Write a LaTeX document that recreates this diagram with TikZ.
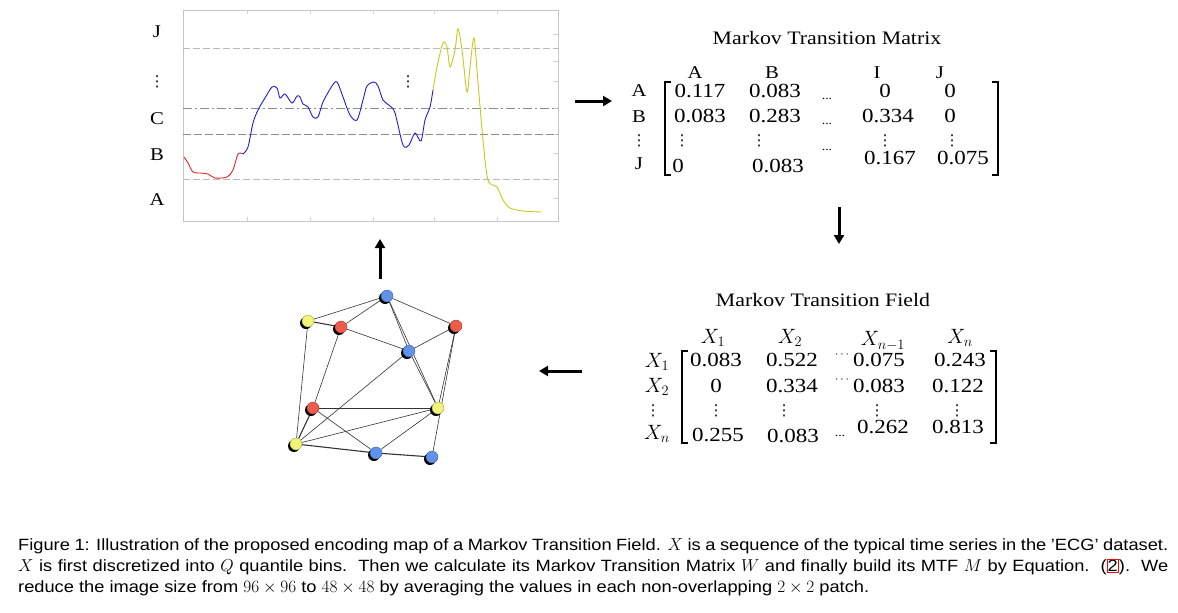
\documentclass[tikz,border=0pt]{standalone}
\usepackage{fontspec}
\setmainfont[FakeStretch=1.15]{Liberation Serif}
\newfontfamily\capfont[FakeStretch=1.12]{Liberation Sans}
\newfontfamily\symfont{DejaVu Sans}
\usetikzlibrary{arrows.meta,shadows,backgrounds}
\definecolor{cyel}{RGB}{242,244,120}
\definecolor{cred}{RGB}{240,92,76}
\definecolor{cblu}{RGB}{96,146,236}
\definecolor{lred}{RGB}{225,40,40}
\definecolor{lblu}{RGB}{30,30,210}
\definecolor{lyel}{RGB}{200,200,30}
\begin{document}
\begin{tikzpicture}[x=1pt,y=-1pt,
  lbl/.style={font=\fontsize{18}{20}\selectfont, inner sep=0},
  num/.style={font=\fontsize{20}{24}\selectfont, inner sep=0},
  vd/.style={font=\symfont\fontsize{15}{16}\selectfont, inner sep=0},
  ttl/.style={font=\fontsize{19}{22}\selectfont, inner sep=0},
  mth/.style={font=\fontsize{20}{22}\selectfont, inner sep=0},
  sdots/.style={font=\fontsize{12}{14}\selectfont, inner sep=0},
  arr/.style={line width=3pt, -{Triangle[length=9pt,width=10pt]}},
  brk/.style={line width=1.8pt},
  gnode/.style={circle, draw=#1!65!black, fill=#1, minimum size=12pt, inner sep=0, line width=0.4pt,
     drop shadow={shadow xshift=-2pt, shadow yshift=-2pt, opacity=1, fill=black}},
  gedge/.style={draw=black!80, line width=0.6pt},
  capl/.style={anchor=base west, inner sep=0, font=\capfont\fontsize{16.3}{19}\selectfont}
]
\useasboundingbox (0,0) rectangle (1178,613);

% ---------- chart ----------
\draw[gray!45, line width=0.8pt] (183,10) rectangle (558,221);
\foreach \x in {247,310,373,434,497} {
  \draw[gray!35] (\x,10) -- (\x,14);
  \draw[gray!35] (\x,221) -- (\x,217);
}
\foreach \y in {34,61,81,108,134,153,179,198} \draw[gray!35] (558,\y) -- (553,\y);
\draw[gray!55, line width=1pt, dash pattern=on 7pt off 3pt] (183,48) -- (558,48);
\draw[gray!90, line width=1pt, dash pattern=on 9pt off 3pt on 2pt off 3pt] (183,108) -- (558,108);
\draw[gray!90, line width=1pt, dash pattern=on 8pt off 3pt] (183,134) -- (558,134);
\draw[gray!55, line width=1pt, dash pattern=on 7pt off 3pt] (183,179) -- (558,179);

\draw[lred, line width=0.9pt] plot[smooth, tension=0.5] coordinates {
 (184,157) (188,163) (193,172) (200,173) (208,174) (215,178) (227,177) (233,170) (238,154) (243,154)};
\draw[lblu, line width=0.9pt] plot[smooth, tension=0.5] coordinates {
 (243,154) (248,147) (253,123) (258,110) (265,98) (272,87) (277,88) (280,98) (285,94) (292,103)
 (297,96) (300,97) (303,104) (308,107) (313,117) (318,117) (323,102) (332,86) (337,82) (343,97)
 (350,115) (357,120) (363,100) (367,86) (374,82) (378,86) (383,100) (390,106) (395,113) (403,145)
 (409,145) (415,133) (421,141) (425,120) (430,107) (433,90)};
\draw[lyel, line width=0.9pt] plot[smooth, tension=0.5] coordinates {
 (433,90) (437,67) (443,43) (447,47) (450,67) (455,50) (458,29) (462,50) (467,92) (470,67)
 (474,38) (478,83) (483,140) (488,180) (497,187) (503,200) (510,208) (523,211) (541,212)};

\node[lbl] (lJ) at (157,32) {J};
\node[vd] (lvd) at (157,82) {⋮};
\node[lbl] (lC) at (157,119) {C};
\node[lbl] (lB) at (157,155) {B};
\node[lbl] (lA) at (157,200) {A};
\node[vd] (cvd) at (408,82) {⋮};

% ---------- Markov Transition Matrix ----------
\node[ttl] (t1) at (827,38) {Markov Transition Matrix};
\node[lbl] (hA) at (695,73) {A};
\node[lbl] (hB) at (772,73) {B};
\node[lbl] (hI) at (877,73) {I};
\node[lbl] (hJ) at (940,73) {J};
\node[lbl] (rA) at (639,91) {A};
\node[lbl] (rB) at (639,117) {B};
\node[vd] (rvd) at (639,141) {⋮};
\node[lbl] (rJ) at (639,164) {J};
\draw[brk] (671,82) -- (665,82) -- (665,175) -- (671,175);
\draw[brk] (992,82) -- (998,82) -- (998,175) -- (992,175);
\node[num] (m11) at (700,91) {0.117};
\node[num] (m12) at (775,91) {0.083};
\node[sdots] (m13) at (827,99) {...};
\node[num] (m14) at (885,91) {0};
\node[num] (m15) at (950,91) {0};
\node[num] (m21) at (700,116) {0.083};
\node[num] (m22) at (775,116) {0.283};
\node[sdots] (m23) at (827,124) {...};
\node[num] (m24) at (888,116) {0.334};
\node[num] (m25) at (950,116) {0};
\node[vd] (m31) at (682,141) {⋮};
\node[vd] (m32) at (759,141) {⋮};
\node[vd] (m34) at (885,141) {⋮};
\node[vd] (m35) at (952,141) {⋮};
\node[num] (m41) at (678,166) {0};
\node[num] (m42) at (778,166) {0.083};
\node[sdots] (m43) at (827,150) {...};
\node[num] (m44) at (890,158) {0.167};
\node[num] (m45) at (963,158) {0.075};

% ---------- Markov Transition Field ----------
\node[ttl] (t2) at (823,300) {Markov Transition Field};
\node[mth] (hX1) at (713,338) {$X_1$};
\node[mth] (hX2) at (790,338) {$X_2$};
\node[mth] (hXn1) at (883,341) {$X_{n-1}$};
\node[mth] (hXn) at (960,338) {$X_n$};
\node[mth] (rX1) at (657,362) {$X_1$};
\node[mth] (rX2) at (657,387) {$X_2$};
\node[vd] (rXvd) at (653,411) {⋮};
\node[mth] (rXn) at (657,434) {$X_n$};
\draw[brk] (688,351) -- (682,351) -- (682,443) -- (688,443);
\draw[brk] (990,351) -- (996,351) -- (996,443) -- (990,443);
\node[num] (f11) at (716,360) {0.083};
\node[num] (f12) at (792,360) {0.522};
\node[sdots] (f13) at (842,355) {$\cdots$};
\node[num] (f14) at (879,360) {0.075};
\node[num] (f15) at (960,360) {0.243};
\node[num] (f21) at (716,386) {0};
\node[num] (f22) at (792,386) {0.334};
\node[sdots] (f23) at (842,380) {$\cdots$};
\node[num] (f24) at (879,386) {0.083};
\node[num] (f25) at (958,386) {0.122};
\node[vd] (f31) at (716,411) {⋮};
\node[vd] (f32) at (784,411) {⋮};
\node[vd] (f34) at (877,411) {⋮};
\node[vd] (f35) at (957,411) {⋮};
\node[num] (f41) at (718,435) {0.255};
\node[num] (f42) at (793,436) {0.083};
\node[sdots] (f43) at (840,436) {...};
\node[num] (f44) at (883,427) {0.262};
\node[num] (f45) at (958,427) {0.813};

% ---------- arrows ----------
\coordinate (a1s) at (575,101); \coordinate (a1e) at (612,101);
\coordinate (a2s) at (839,207); \coordinate (a2e) at (839,244);
\coordinate (a3s) at (582,371); \coordinate (a3e) at (539,371);
\coordinate (a4s) at (380,279); \coordinate (a4e) at (380,239);
\draw[arr] (a1s) -- (a1e);
\draw[arr] (a2s) -- (a2e);
\draw[arr] (a3s) -- (a3e);
\draw[arr] (a4s) -- (a4e);

% ---------- graph ----------
\node[gnode=cyel] (y1) at (308,321) {};
\node[gnode=cred] (r1) at (341,327) {};
\node[gnode=cblu] (b1) at (387,296) {};
\node[gnode=cred] (r2) at (456,326) {};
\node[gnode=cblu] (b2) at (409,351) {};
\node[gnode=cred] (r3) at (313,408) {};
\node[gnode=cyel] (y2) at (438,408) {};
\node[gnode=cyel] (y3) at (296,444) {};
\node[gnode=cblu] (b3) at (376,453) {};
\node[gnode=cblu] (b4) at (432,457) {};
\begin{scope}[on background layer]
\draw[gedge] (y1) -- (b1);
\draw[gedge, line width=1.1pt] (y1) -- (r1);
\draw[gedge] (y1) -- (y3);
\draw[gedge] (r1) -- (b1);
\draw[gedge] (r1) -- (b2);
\draw[gedge] (r1) -- (r3);
\draw[gedge] (b1) -- (b2);
\draw[gedge] (b1) -- (y2);
\draw[gedge] (b2) -- (y2);
\draw[gedge] (b1) -- (r2);
\draw[gedge] (r2) -- (b2);
\draw[gedge] (r2) -- (y2);
\draw[gedge] (r2) -- (b4);
\draw[gedge] (b2) -- (y3);
\draw[gedge] (r3) -- (y2);
\draw[gedge, line width=1.1pt] (r3) -- (y3);
\draw[gedge] (r3) -- (b3);
\draw[gedge] (y3) -- (y2);
\draw[gedge, line width=1.1pt] (y3) -- (b3);
\draw[gedge] (b3) -- (y2);
\draw[gedge, line width=1.1pt] (b3) -- (b4);
\end{scope}

% ---------- caption ----------
\node[capl] (cap1) at (18,550) {\makebox[1150pt][s]{Figure 1: Illustration of the proposed encoding map of a Markov Transition Field. $X$ is a sequence of the typical time series in the ’ECG’ dataset.}};
\node[capl] (cap2) at (18,571) {\makebox[1150pt][s]{$X$ is first discretized into $Q$ quantile bins.\ \ Then we calculate its Markov Transition Matrix $W$ and finally build its MTF $M$ by Equation.\ \ ({\fboxsep=0.5pt\fboxrule=0.6pt\fcolorbox{red}{white}{2}}).\ \ We}};
\node[capl] (cap3) at (18,592) {reduce the image size from $96\times96$ to $48\times48$ by averaging the values in each non-overlapping $2\times2$ patch.};
\end{tikzpicture}
\end{document}
